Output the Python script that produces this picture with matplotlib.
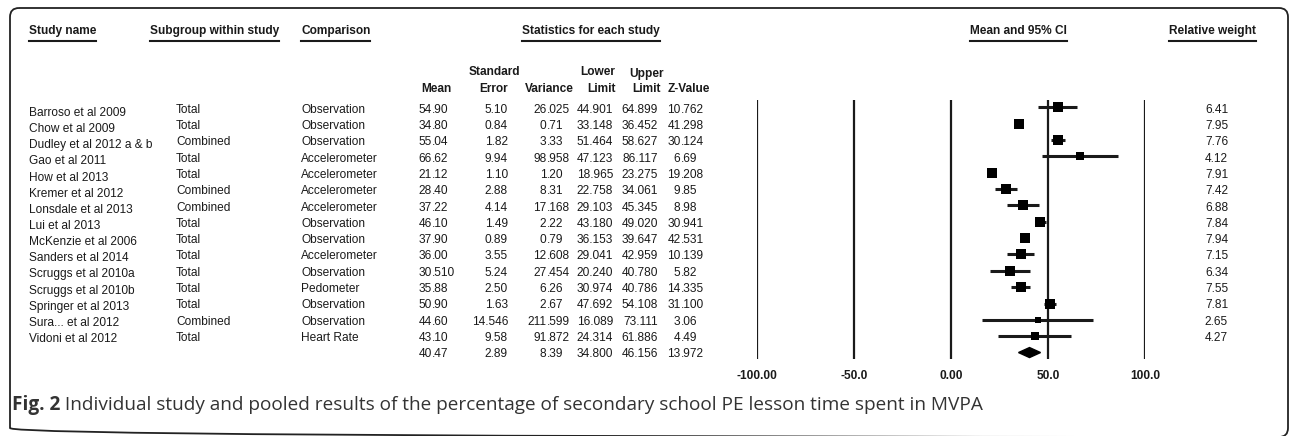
import matplotlib.pyplot as plt
from matplotlib.patches import FancyBboxPatch, Polygon

# ---- data ----
studies = ["Barroso et al 2009", "Chow et al 2009", "Dudley et al 2012 a & b", "Gao et al 2011",
           "How et al 2013", "Kremer et al 2012", "Lonsdale et al 2013", "Lui et al 2013",
           "McKenzie et al 2006", "Sanders et al 2014", "Scruggs et al 2010a", "Scruggs et al 2010b",
           "Springer et al 2013", "Sura... et al 2012", "Vidoni et al 2012"]
subgroups = ["Total", "Total", "Combined", "Total", "Total", "Combined", "Combined", "Total",
             "Total", "Total", "Total", "Total", "Total", "Combined", "Total"]
comparisons = ["Observation", "Observation", "Observation", "Accelerometer", "Accelerometer",
               "Accelerometer", "Accelerometer", "Observation", "Observation", "Accelerometer",
               "Observation", "Pedometer", "Observation", "Observation", "Heart Rate"]
mean_txt = ["54.90", "34.80", "55.04", "66.62", "21.12", "28.40", "37.22", "46.10", "37.90",
            "36.00", "30.510", "35.88", "50.90", "44.60", "43.10", "40.47"]
se_txt = ["5.10", "0.84", "1.82", "9.94", "1.10", "2.88", "4.14", "1.49", "0.89", "3.55", "5.24",
          "2.50", "1.63", "14.546", "9.58", "2.89"]
var_txt = ["26.025", "0.71", "3.33", "98.958", "1.20", "8.31", "17.168", "2.22", "0.79", "12.608",
           "27.454", "6.26", "2.67", "211.599", "91.872", "8.39"]
lower_txt = ["44.901", "33.148", "51.464", "47.123", "18.965", "22.758", "29.103", "43.180",
             "36.153", "29.041", "20.240", "30.974", "47.692", "16.089", "24.314", "34.800"]
upper_txt = ["64.899", "36.452", "58.627", "86.117", "23.275", "34.061", "45.345", "49.020",
             "39.647", "42.959", "40.780", "40.786", "54.108", "73.111", "61.886", "46.156"]
z_txt = ["10.762", "41.298", "30.124", "6.69", "19.208", "9.85", "8.98", "30.941", "42.531",
         "10.139", "5.82", "14.335", "31.100", "3.06", "4.49", "13.972"]
weights_txt = ["6.41", "7.95", "7.76", "4.12", "7.91", "7.42", "6.88", "7.84", "7.94", "7.15",
               "6.34", "7.55", "7.81", "2.65", "4.27"]
axis_ticks = [-100, -50, 0, 50, 100]
axis_labels = ["-100.00", "-50.0", "0.00", "50.0", "100.0"]
caption_bold = "Fig. 2"
caption_text = (" Individual study and pooled results of the percentage of secondary "
                "school PE lesson time spent in MVPA")

W, H = 1292, 436
fig = plt.figure(figsize=(W / 100, H / 100), dpi=100)
fig.patch.set_facecolor("white")

# canvas axes in pixel coordinates for the table layout
cv = fig.add_axes([0, 0, 1, 1])
cv.set_xlim(0, W)
cv.set_ylim(H, 0)
cv.axis("off")

FONT = "Liberation Sans"
FS = 8.6
INK = "#1a1a1a"

frame = FancyBboxPatch((10, 8), 1278, 429, boxstyle="round,pad=0,rounding_size=9",
                       fill=False, ec="#222222", lw=1.3, clip_on=False)
cv.add_patch(frame)


def txt(x, y, s, ha="left", bold=False, size=FS):
    return cv.text(x, y, s, ha=ha, va="center", fontsize=size, family=FONT, color=INK,
                   fontweight="bold" if bold else "normal")


def dec(x, y, s):
    # decimal-point aligned number
    ip, fp = s.split(".")
    txt(x, y, ip, ha="right")
    txt(x, y, "." + fp, ha="left")


# column headers (underlined)
heads = [(29, "Study name"), (150, "Subgroup within study"), (301, "Comparison"),
         (522, "Statistics for each study"), (970, "Mean and 95% CI"), (1169, "Relative weight")]
head_artists = [txt(x, 31, s, bold=True) for x, s in heads]

txt(494, 72, "Standard", ha="center", bold=True)
txt(615, 72, "Lower", ha="right", bold=True)
txt(664, 74, "Upper", ha="right", bold=True)
for x, s in [(452, "Mean"), (508, "Error"), (574, "Variance"), (616, "Limit"), (661, "Limit"),
             (710, "Z-Value")]:
    txt(x, 89, s, ha="right", bold=True)

# table rows
for i in range(len(studies)):
    txt(29, 113 + 16.14 * i, studies[i])
for i in range(len(subgroups)):
    y = 109.7 + 16.3 * i
    txt(176, y, subgroups[i])
    txt(301, y, comparisons[i])
    txt(1228, y, weights_txt[i], ha="right")
for i in range(len(mean_txt)):
    y = 109.7 + 16.3 * i
    dec(432, y, mean_txt[i])
    txt(508, y, se_txt[i], ha="right")
    dec(546.5, y, var_txt[i])
    txt(613, y, lower_txt[i], ha="right")
    txt(658, y, upper_txt[i], ha="right")
    dec(680.5, y, z_txt[i])

# forest plot
means = [float(v) for v in mean_txt]
lowers = [float(v) for v in lower_txt]
uppers = [float(v) for v in upper_txt]
weights = [float(v) for v in weights_txt]
n = len(studies)

x0, x1 = 757, 1145
y0, y1 = 100, 359
row0, step = 107.3, 16.35
ax = fig.add_axes([x0 / W, 1 - y1 / H, (x1 - x0) / W, (y1 - y0) / H])
ax.set_xlim(-100, 100)
ax.set_ylim((y1 - row0) / step, (y0 - row0) / step)
ax.axis("off")
for t in axis_ticks:
    ax.axvline(t, color=INK, lw=1.6)
for i in range(n):
    ax.plot([lowers[i], uppers[i]], [i, i], color=INK, lw=2.2, solid_capstyle="butt")
    ax.plot(means[i], i, marker="s", color="black", ms=2.6 * weights[i] ** 0.5, mew=0)
dh = 5 / step
ax.add_patch(Polygon([(lowers[n], n), (means[n], n - dh), (uppers[n], n), (means[n], n + dh)],
                     closed=True, color="black"))
for t, lab in zip(axis_ticks, axis_labels):
    ax.text(t, (376 - row0) / step, lab, ha="center", va="center", fontsize=8.6, family=FONT,
            fontweight="bold", color=INK, clip_on=False)

# caption
CAP_FS = 13.7
cap = cv.text(12, 405, caption_bold, ha="left", va="center", fontsize=CAP_FS, family="Open Sans",
              fontweight="bold", color="#333333")
fig.canvas.draw()
r = fig.canvas.get_renderer()
bb = cap.get_window_extent(r)
cv.text(bb.x1, 405, caption_text, ha="left", va="center", fontsize=CAP_FS, family="Open Sans",
        color="#333333")

for a in head_artists:
    b = a.get_window_extent(r)
    cv.plot([b.x0, b.x1], [41.5, 41.5], color=INK, lw=1.5)

fig.savefig("out.png", dpi=100, facecolor="white")
